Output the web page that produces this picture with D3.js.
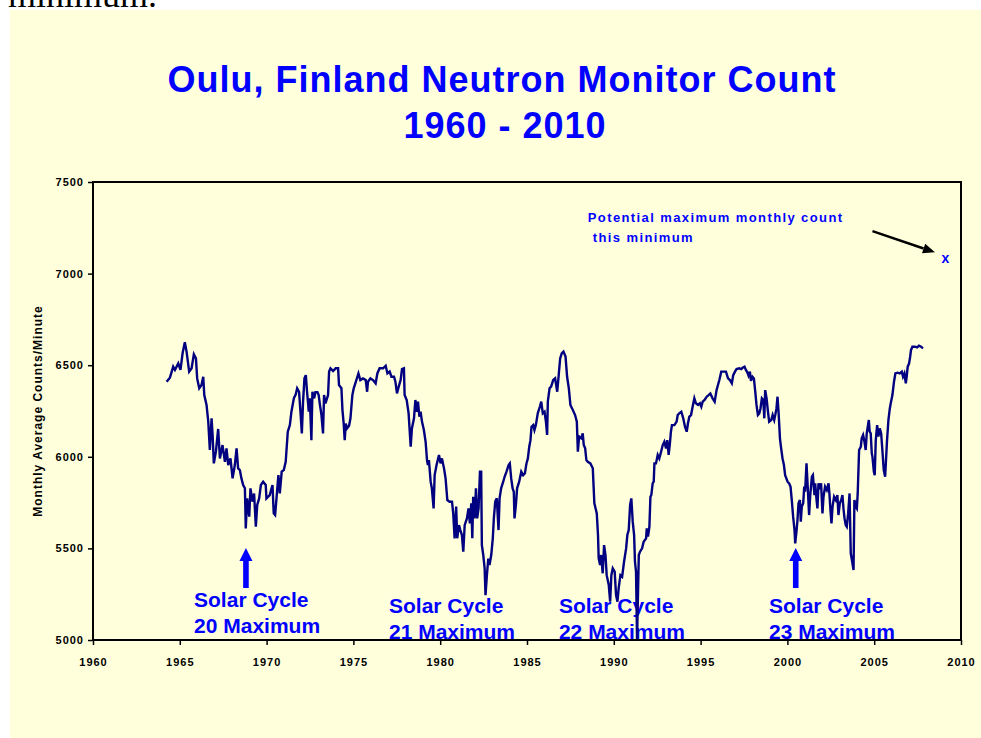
<!DOCTYPE html>
<html>
<head>
<meta charset="utf-8">
<script src="https://cdn.jsdelivr.net/npm/d3@7"></script>
<style>
  html, body { margin: 0; padding: 0; background: #ffffff; }
  svg { display: block; }
  text { font-family: Arial, "Liberation Sans", sans-serif; }
</style>
</head>
<body>
<svg id="chart" width="981" height="738"></svg>
<script>
// ---- Data ----
const titleLines = ["Oulu, Finland Neutron Monitor Count", "1960 - 2010"];
const yAxisTitle = "Monthly Average Counts/Minute";
const xTicks = [1960, 1965, 1970, 1975, 1980, 1985, 1990, 1995, 2000, 2005, 2010];
const yTicks = [5000, 5500, 6000, 6500, 7000, 7500];

const years = [
1964.24,1964.43,1964.62,1964.72,1964.91,1965.04,1965.16,1965.29,1965.39,1965.54,1965.68,1965.81,1965.93,1966.0,1966.12,1966.25,1966.35,1966.41,1966.54,1966.64,1966.73,1966.83,1966.89,1966.96,1967.08,1967.21,1967.31,1967.46,1967.6,1967.69,1967.79,1967.92,1968.04,1968.17,1968.27,1968.36,1968.46,1968.55,1968.65,1968.75,1968.8,1968.88,1969.0,1969.07,1969.19,1969.28,1969.38,1969.46,1969.57,1969.67,1969.8,1969.95,1969.99,1970.18,1970.34,1970.41,1970.49,1970.57,1970.68,1970.76,1970.87,1970.99,1971.1,1971.22,1971.34,1971.43,1971.57,1971.68,1971.76,1971.87,1971.95,1972.03,1972.1,1972.18,1972.26,1972.33,1972.43,1972.49,1972.58,1972.64,1972.74,1972.81,1972.93,1973.0,1973.06,1973.16,1973.25,1973.31,1973.39,1973.54,1973.6,1973.68,1973.83,1973.98,1974.12,1974.17,1974.31,1974.37,1974.44,1974.5,1974.56,1974.63,1974.75,1974.83,1974.94,1975.02,1975.17,1975.29,1975.4,1975.55,1975.71,1975.79,1975.84,1975.98,1976.13,1976.28,
1976.38,1976.51,1976.71,1976.86,1976.96,1977.09,1977.19,1977.34,1977.42,1977.51,1977.61,1977.72,1977.8,1977.91,1977.95,1978.07,1978.18,1978.3,1978.37,1978.49,1978.57,1978.66,1978.72,1978.8,1978.87,1978.95,1979.06,1979.16,1979.24,1979.29,1979.35,1979.45,1979.52,1979.62,1979.68,1979.79,1979.93,1980.02,1980.1,1980.22,1980.31,1980.41,1980.54,1980.68,1980.75,1980.83,1980.92,1980.98,1981.08,1981.16,1981.25,1981.33,1981.41,1981.54,1981.63,1981.71,1981.79,1981.85,1981.9,1981.98,1982.06,1982.13,1982.21,1982.29,1982.36,1982.4,1982.48,1982.56,1982.61,1982.69,1982.77,1982.84,1982.94,1983.03,1983.09,1983.17,1983.26,1983.36,1983.42,1983.51,1983.63,1983.71,1983.82,1983.94,1984.01,1984.09,1984.17,1984.24,1984.28,1984.36,1984.43,1984.55,1984.67,1984.78,1984.88,1984.97,1985.05,1985.13,1985.2,1985.26,1985.36,1985.43,1985.51,1985.62,1985.74,1985.82,1985.91,1986.01,1986.09,1986.16,1986.2,1986.3,1986.39,1986.51,1986.62,1986.74,1986.81,1986.91,1987.0,1987.1,1987.22,1987.31,1987.41,1987.5,1987.64,1987.77,1987.87,1987.93,1988.0,1988.12,1988.21,1988.27,1988.35,1988.42,1988.5,1988.65,
1988.79,1988.88,1989.02,1989.09,1989.13,1989.21,1989.27,1989.36,1989.44,1989.52,1989.59,1989.71,1989.79,1989.86,1989.94,1990.05,1990.13,1990.21,1990.28,1990.38,1990.48,1990.59,1990.71,1990.78,1990.86,1990.94,1991.01,1991.09,1991.17,1991.22,1991.28,1991.34,1991.44,1991.51,1991.63,1991.72,1991.86,1991.9,1991.97,1992.05,1992.11,1992.16,1992.24,1992.3,1992.34,1992.43,1992.53,1992.62,1992.7,1992.82,1992.91,1993.01,1993.08,1993.16,1993.24,1993.29,1993.35,1993.49,1993.62,1993.68,1993.77,1993.89,1994.0,1994.1,1994.2,1994.27,1994.35,1994.45,1994.54,1994.64,1994.73,1994.85,1994.96,1995.04,1995.12,1995.23,1995.35,1995.46,1995.56,1995.69,1995.81,1995.92,1996.0,1996.08,1996.19,1996.36,1996.46,1996.58,1996.69,1996.8,1996.88,1996.98,1997.07,1997.23,1997.34,1997.42,1997.53,1997.61,1997.69,1997.76,1997.84,1997.9,1997.99,1998.07,1998.15,1998.22,1998.3,1998.38,1998.45,1998.53,1998.61,1998.67,1998.72,1998.8,1998.88,1998.95,1999.07,1999.15,1999.24,1999.3,1999.37,1999.43,1999.49,1999.57,1999.64,1999.72,1999.8,1999.87,
2000.01,2000.1,2000.18,2000.26,2000.33,2000.41,2000.45,2000.53,2000.58,2000.64,2000.72,2000.77,2000.83,2000.91,2000.97,2001.02,2001.1,2001.18,2001.25,2001.31,2001.41,2001.47,2001.52,2001.56,2001.6,2001.68,2001.73,2001.79,2001.87,2001.94,2002.02,2002.08,2002.17,2002.27,2002.37,2002.42,2002.48,2002.54,2002.6,2002.69,2002.79,2002.88,2002.94,2003.02,2003.1,2003.17,2003.23,2003.29,2003.36,2003.42,2003.5,2003.58,2003.65,2003.75,2003.81,2003.86,2003.94,2004.0,2004.05,2004.13,2004.23,2004.28,2004.36,2004.44,2004.51,2004.57,2004.63,2004.69,2004.74,2004.8,2004.86,2004.9,2004.98,2005.03,2005.09,2005.17,2005.24,2005.32,2005.4,2005.47,2005.55,2005.63,2005.67,2005.74,2005.82,2005.9,2005.97,2006.05,2006.14,2006.22,2006.34,2006.47,2006.59,2006.66,2006.74,2006.82,2006.87,2006.93,2007.01,2007.07,2007.12,2007.2,2007.35,2007.47,2007.58,2007.7,2007.81
];

const counts = [
6410,6432,6492,6474,6510,6474,6565,6625,6574,6465,6483,6559,6537,6428,6374,6392,6437,6337,6283,6192,6037,6210,6119,5964,6028,6152,5991,6064,5973,6046,5955,5991,5882,5955,6046,5937,5928,5882,5846,5828,5609,5773,5673,5828,5755,5800,5618,5737,5773,5846,5864,5846,5773,5791,5846,5691,5682,5773,5900,5800,5919,5928,5973,6137,6173,6246,6319,6341,6374,6355,6246,6128,6301,6428,6446,6355,6246,6319,6091,6355,6319,6352,6352,6337,6292,6228,6128,6337,6292,6337,6465,6483,6468,6483,6483,6392,6374,6255,6182,6091,6182,6155,6170,6210,6337,6374,6419,6455,6419,6428,6419,6355,6410,6428,6419,6401,
6455,6483,6483,6497,6455,6465,6437,6437,6410,6346,6383,6419,6479,6483,6337,6310,6237,6055,6155,6210,6310,6246,6301,6219,6246,6192,6146,6082,5982,5955,5982,5864,5828,5718,5900,5955,6010,5964,5991,5937,5882,5764,5755,5755,5691,5555,5728,5555,5627,5600,5573,5482,5627,5664,5718,5637,5746,5555,5782,5664,5828,5664,5718,5919,5919,5518,5464,5391,5245,5354,5445,5409,5464,5555,5664,5755,5773,5600,5773,5828,5864,5891,5919,5955,5964,5882,5828,5809,5664,5737,5828,5864,5919,5900,5910,5964,5991,6055,6091,6164,6173,6146,6173,6237,6273,6301,6237,6246,6192,6119,6301,6374,6383,6419,6428,6355,6428,6537,6565,6574,6547,6437,6374,6283,6255,6228,6192,6028,6110,6101,6128,6064,6046,5982,5973,5964,
5937,5746,5691,5573,5445,5409,5464,5364,5518,5464,5354,5300,5209,5354,5391,5373,5245,5209,5282,5354,5345,5427,5500,5573,5600,5737,5773,5646,5573,5427,5373,5005,5464,5482,5500,5536,5555,5609,5564,5618,5782,5791,5855,5864,5964,5964,6010,5991,6019,6064,6082,6046,6091,6010,6082,6137,6173,6173,6192,6228,6237,6246,6210,6164,6137,6182,6219,6228,6273,6319,6292,6283,6292,6273,6301,6310,6328,6337,6346,6319,6301,6364,6392,6419,6465,6465,6465,6428,6419,6401,6446,6465,6479,6483,6479,6486,6492,6474,6461,6443,6465,6414,6437,6428,6355,6283,6228,6237,6264,6319,6310,6210,6364,6319,6246,6192,6201,6228,6201,6228,6264,6328,6246,6101,6046,5991,5955,5900,
5864,5855,5837,5755,5673,5600,5527,5600,5655,5746,5764,5646,5728,5746,5837,5809,5964,5818,5682,5782,5891,5900,5837,5791,5855,5764,5718,5855,5837,5855,5691,5782,5837,5818,5855,5800,5709,5637,5728,5782,5764,5791,5682,5746,5764,5791,5718,5664,5627,5618,5691,5800,5473,5418,5382,5764,5728,5718,5800,6037,6055,6101,6119,6082,6037,6128,6164,6201,6137,6128,6019,6000,5919,5900,6091,6173,6110,6155,6128,6037,5928,5891,5964,6091,6201,6264,6301,6337,6410,6455,6459,6455,6465,6437,6455,6401,6437,6492,6510,6546,6583,6601,6601,6597,6607,6601,6592
];

// Annotations
const noteLines = ["Potential maximum monthly count", " this minimum"];
const noteYears = [1988.5, 1988.5];
const noteLevels = [7282, 7172];
const potentialYear = 2009.1;
const potentialCount = 7085;
const noteArrowYears = [2004.9, 2008.5];
const noteArrowLevels = [7232, 7116];

const cycleNames = ["20", "21", "22", "23"];
const cycleLabelYears = [1965.82, 1977.05, 1986.84, 1998.94];
const cycleLabelLevels = [5180, 5148, 5148, 5148];
const cycleArrowYears = [1968.81, 2000.48];
const cycleArrowTip = 5502;
const cycleArrowBase = 5284;

// ---- Drawing ----
const svg = d3.select("#chart");
const W = 981, H = 738;
const blue = "#0000FF", navy = "#000080";

// stray document text above the panel (cut off in the reference too)
svg.append("text").attr("x", 8).attr("y", 7)
  .style("font-family", "'Liberation Serif', 'Times New Roman', serif")
  .attr("font-size", 36).attr("fill", "#000").text("minimum.");

// panel
svg.append("rect").attr("x", 10).attr("y", 10).attr("width", W - 10).attr("height", H - 10)
  .attr("fill", "#FFFFDC");

// title
svg.append("text").attr("x", 502).attr("y", 92).attr("text-anchor", "middle")
  .attr("font-size", 36).attr("font-weight", "bold").attr("fill", blue)
  .style("letter-spacing", "1px").text(titleLines[0]);
svg.append("text").attr("x", 505).attr("y", 138).attr("text-anchor", "middle")
  .attr("font-size", 36).attr("font-weight", "bold").attr("fill", blue)
  .style("letter-spacing", "1px").text(titleLines[1]);

const x = d3.scaleLinear().domain([1960, 2010]).range([93, 961]);
const y = d3.scaleLinear().domain([5000, 7500]).range([640, 182]);

// axes
const gx = svg.append("g").attr("transform", `translate(0,${y(5000)})`)
  .call(d3.axisBottom(x).tickValues(xTicks).tickFormat(d3.format("d")).tickSize(5).tickPadding(13));
const gy = svg.append("g").attr("transform", `translate(${x(1960)},0)`)
  .call(d3.axisLeft(y).tickValues(yTicks).tickFormat(d3.format("d")).tickSize(5).tickPadding(4));
[gx, gy].forEach(g => {
  g.select(".domain").remove();
  g.selectAll(".tick line").attr("stroke", "#000").attr("stroke-width", 1.5);
  g.selectAll(".tick text").attr("font-size", 11).attr("font-weight", "bold")
    .attr("fill", "#000").style("font-family", "Arial, 'Liberation Sans', sans-serif")
    .style("letter-spacing", "1px");
});

// y-axis title
svg.append("text").attr("transform", `translate(42,${(y(5000) + y(7500)) / 2}) rotate(-90)`)
  .attr("text-anchor", "middle").attr("font-size", 12).attr("font-weight", "bold")
  .style("letter-spacing", "1px").attr("fill", "#000").text(yAxisTitle);

// solar cycle labels (drawn beneath the data line, as in the reference)
cycleNames.forEach((n, i) => {
  const t = svg.append("text").attr("x", x(cycleLabelYears[i])).attr("y", y(cycleLabelLevels[i]))
    .attr("font-size", 21).attr("font-weight", "bold").attr("fill", blue);
  t.append("tspan").attr("x", x(cycleLabelYears[i])).text("Solar Cycle");
  t.append("tspan").attr("x", x(cycleLabelYears[i])).attr("dy", 26).text(n + " Maximum");
});

// data line
svg.append("defs").append("clipPath").attr("id", "plotclip").append("rect")
  .attr("x", x(1960)).attr("y", y(7500)).attr("width", x(2010) - x(1960)).attr("height", y(5000) - y(7500) + 1);
const series = years.map((yr, i) => [yr, counts[i]]);
svg.append("path").datum(series)
  .attr("clip-path", "url(#plotclip)")
  .attr("d", d3.line().x(d => x(d[0])).y(d => y(d[1])))
  .attr("fill", "none").attr("stroke", navy).attr("stroke-width", 2.4).attr("stroke-linejoin", "miter");

// plot frame
svg.append("rect").attr("x", x(1960)).attr("y", y(7500))
  .attr("width", x(2010) - x(1960)).attr("height", y(5000) - y(7500))
  .attr("fill", "none").attr("stroke", "#000").attr("stroke-width", 2);

// note text
noteLines.forEach((t, i) => {
  svg.append("text").attr("x", x(noteYears[i])).attr("y", y(noteLevels[i]))
    .attr("font-size", 13).attr("font-weight", "bold").attr("fill", blue)
    .style("letter-spacing", "1.4px").style("white-space", "pre").attr("xml:space", "preserve").text(t);
});
// potential max marker
svg.append("text").attr("x", x(potentialYear)).attr("y", y(potentialCount)).attr("dy", "0.35em")
  .attr("text-anchor", "middle").attr("font-size", 14).attr("font-weight", "bold").attr("fill", blue).text("x");

// black arrow
{
  const x0 = x(noteArrowYears[0]), y0 = y(noteArrowLevels[0]);
  const x1 = x(noteArrowYears[1]), y1 = y(noteArrowLevels[1]);
  const ang = Math.atan2(y1 - y0, x1 - x0);
  const hl = 12, hw = 5;
  const bx = x1 - hl * Math.cos(ang), by = y1 - hl * Math.sin(ang);
  svg.append("line").attr("x1", x0).attr("y1", y0).attr("x2", bx).attr("y2", by)
    .attr("stroke", "#000").attr("stroke-width", 2.5);
  const p = [[x1, y1], [bx + hw * Math.sin(ang), by - hw * Math.cos(ang)], [bx - hw * Math.sin(ang), by + hw * Math.cos(ang)]];
  svg.append("path").attr("d", "M" + p.map(q => q.join(",")).join("L") + "Z").attr("fill", "#000");
}

// solar cycle arrows
cycleArrowYears.forEach(yr => {
  const cx = x(yr), yt = y(cycleArrowTip), yb = y(cycleArrowBase);
  const hh = 13, hw = 6.5, sw = 2.8;
  const d = `M${cx},${yt}L${cx + hw},${yt + hh}L${cx + sw},${yt + hh}L${cx + sw},${yb}L${cx - sw},${yb}L${cx - sw},${yt + hh}L${cx - hw},${yt + hh}Z`;
  svg.append("path").attr("d", d).attr("fill", blue);
});
</script>
</body>
</html>
